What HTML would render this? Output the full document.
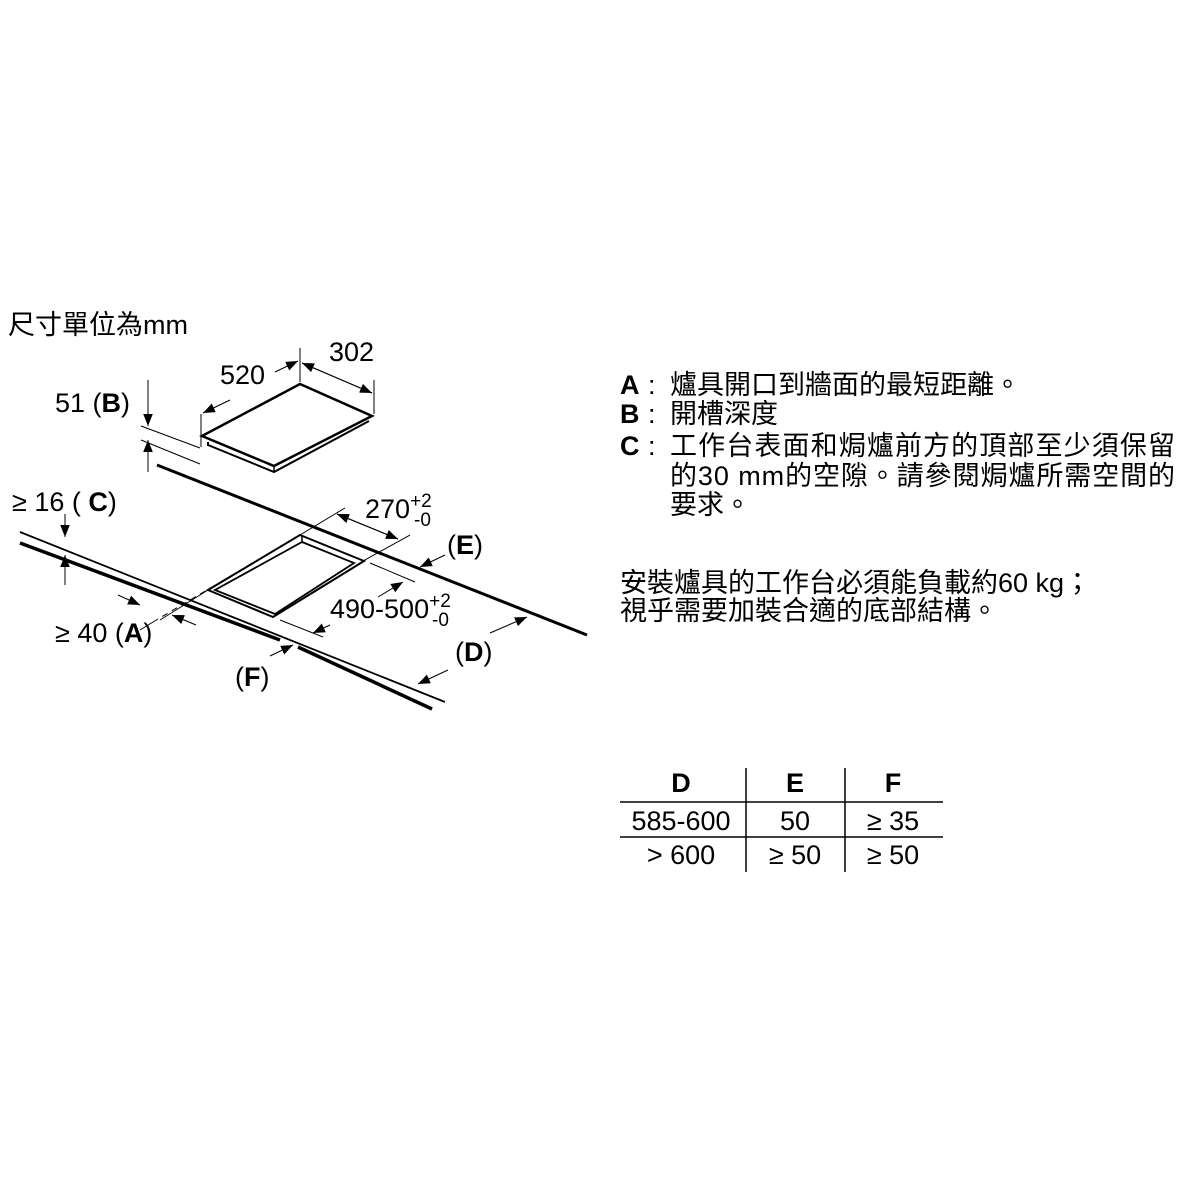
<!DOCTYPE html>
<html><head><meta charset="utf-8"><style>
html,body{margin:0;padding:0;background:#fff;}
svg{display:block}
text{font-family:"Liberation Sans","Noto Sans CJK TC",sans-serif;fill:#000;}
</style></head><body>
<svg width="1200" height="1200" viewBox="0 0 1200 1200" xmlns="http://www.w3.org/2000/svg">
<defs>
<marker id="a" viewBox="0 0 10 10" refX="10" refY="5" markerWidth="12" markerHeight="12" markerUnits="userSpaceOnUse" orient="auto"><path d="M0,1 L10,5 L0,9 z" fill="#000"/></marker>
</defs>
<text x="8" y="334" font-size="27">尺寸單位為mm</text>

<g stroke="#000" fill="none">
<path d="M300,384 L372,416 L274,466 L202,436 Z" stroke-width="2.5" fill="#fff"/>
<path d="M208,442 L208,445 L274,472 L369,421" stroke-width="2"/>
<path d="M274,466 L274,472" stroke-width="1.5"/>
<line x1="300" y1="348" x2="300" y2="382" stroke-width="1"/>
<line x1="374" y1="380" x2="374" y2="414" stroke-width="1"/>
<line x1="302" y1="363" x2="372" y2="393" stroke-width="1" marker-end="url(#a)"/>
<line x1="372" y1="393" x2="302" y2="363" stroke-width="1" marker-end="url(#a)"/>
<line x1="201" y1="414" x2="201" y2="447" stroke-width="1"/>
<line x1="275" y1="372" x2="298" y2="361" stroke-width="1" marker-end="url(#a)"/>
<line x1="230" y1="400" x2="203" y2="413" stroke-width="1" marker-end="url(#a)"/>
<line x1="141" y1="426" x2="200" y2="448" stroke-width="1"/>
<line x1="141" y1="440" x2="200" y2="464" stroke-width="1"/>
<line x1="148" y1="380" x2="148" y2="426" stroke-width="1" marker-end="url(#a)"/>
<line x1="148" y1="472" x2="148" y2="440" stroke-width="1" marker-end="url(#a)"/>

<line x1="157" y1="465" x2="587" y2="635" stroke-width="3"/>
<line x1="20" y1="532" x2="445" y2="702" stroke-width="1.8"/>
<path d="M20,543 L280,640 M298,647 L432,709" stroke-width="3.5"/>

<path d="M300,535 L364,561 L273,617 L208,590 Z" stroke-width="2" fill="#fff"/>
<path d="M302,542 L354,563 L275,614 L215,590 Z" stroke-width="1.8"/>
<line x1="302" y1="535" x2="302" y2="542" stroke-width="1.5"/>
<line x1="300" y1="535" x2="158" y2="619" stroke-width="1" stroke-dasharray="6,5"/>
<line x1="208" y1="590" x2="160" y2="620" stroke-width="1"/>
<line x1="158" y1="619" x2="140" y2="630" stroke-width="1"/>
<line x1="300" y1="535" x2="345" y2="508" stroke-width="1"/>
<line x1="363" y1="561" x2="410" y2="535" stroke-width="1"/>
<line x1="337" y1="514" x2="398" y2="539" stroke-width="1" marker-end="url(#a)"/>
<line x1="398" y1="539" x2="337" y2="514" stroke-width="1" marker-end="url(#a)"/>
<line x1="370" y1="563" x2="415" y2="582" stroke-width="1"/>
<line x1="280" y1="620" x2="323" y2="637" stroke-width="1"/>
<line x1="378" y1="597" x2="403" y2="582" stroke-width="1" marker-end="url(#a)"/>
<line x1="330" y1="625" x2="313" y2="633" stroke-width="1" marker-end="url(#a)"/>
<line x1="65" y1="514" x2="65" y2="537" stroke-width="1" marker-end="url(#a)"/>
<line x1="65" y1="585" x2="65" y2="555" stroke-width="1" marker-end="url(#a)"/>
<line x1="118" y1="595" x2="140" y2="605" stroke-width="1" marker-end="url(#a)"/>
<line x1="196" y1="625" x2="172" y2="615" stroke-width="1" marker-end="url(#a)"/>
<line x1="445" y1="555" x2="420" y2="567" stroke-width="1" marker-end="url(#a)"/>
<line x1="490" y1="633" x2="527" y2="617" stroke-width="1" marker-end="url(#a)"/>
<line x1="448" y1="670" x2="418" y2="684" stroke-width="1" marker-end="url(#a)"/>
<line x1="270" y1="656" x2="293" y2="645" stroke-width="1" marker-end="url(#a)"/>
</g>
<g font-size="27">
<text x="329" y="361">302</text>
<text x="220" y="384">520</text>
<text x="55" y="412">51 (<tspan font-weight="bold">B</tspan>)</text>
<text x="12" y="511">≥ 16 ( <tspan font-weight="bold">C</tspan>)</text>
<text x="365" y="518">270<tspan font-size="19" dy="-11">+2</tspan></text>
<text x="414" y="526" font-size="19">-0</text>
<text x="447" y="554">(<tspan font-weight="bold">E</tspan>)</text>
<text x="330" y="618">490-500<tspan font-size="19" dy="-11">+2</tspan></text>
<text x="432" y="626" font-size="19">-0</text>
<text x="55" y="642">≥ 40 (<tspan font-weight="bold">A</tspan>)</text>
<text x="455" y="661">(<tspan font-weight="bold">D</tspan>)</text>
<text x="235" y="686">(<tspan font-weight="bold">F</tspan>)</text>
</g>

<g font-size="27">
<text x="620" y="394" font-weight="bold">A</text><text x="648" y="394">:</text><text x="670" y="394">爐具開口到牆面的最短距離。</text>
<text x="620" y="423" font-weight="bold">B</text><text x="648" y="423">:</text><text x="670" y="423">開槽深度</text>
<text x="620" y="455" font-weight="bold">C</text><text x="648" y="455">:</text><text x="670" y="455" textLength="505">工作台表面和焗爐前方的頂部至少須保留</text>
<text x="670" y="485" textLength="505">的30 mm的空隙。請參閱焗爐所需空間的</text>
<text x="670" y="514">要求。</text>
<text x="620" y="592">安裝爐具的工作台必須能負載約60 kg；</text>
<text x="620" y="620">視乎需要加裝合適的底部結構。</text>
</g>

<g stroke="#000" stroke-width="1.5">
<line x1="746" y1="768" x2="746" y2="872"/>
<line x1="845" y1="768" x2="845" y2="872"/>
<line x1="620" y1="802" x2="943" y2="802"/>
<line x1="620" y1="837" x2="943" y2="837"/>
</g>
<g font-size="27" text-anchor="middle">
<text x="681" y="792" font-weight="bold">D</text>
<text x="795" y="792" font-weight="bold">E</text>
<text x="893" y="792" font-weight="bold">F</text>
<text x="681" y="830">585-600</text>
<text x="795" y="830">50</text>
<text x="893" y="830">≥ 35</text>
<text x="681" y="864">&gt; 600</text>
<text x="795" y="864">≥ 50</text>
<text x="893" y="864">≥ 50</text>
</g>
</svg>
</body></html>
